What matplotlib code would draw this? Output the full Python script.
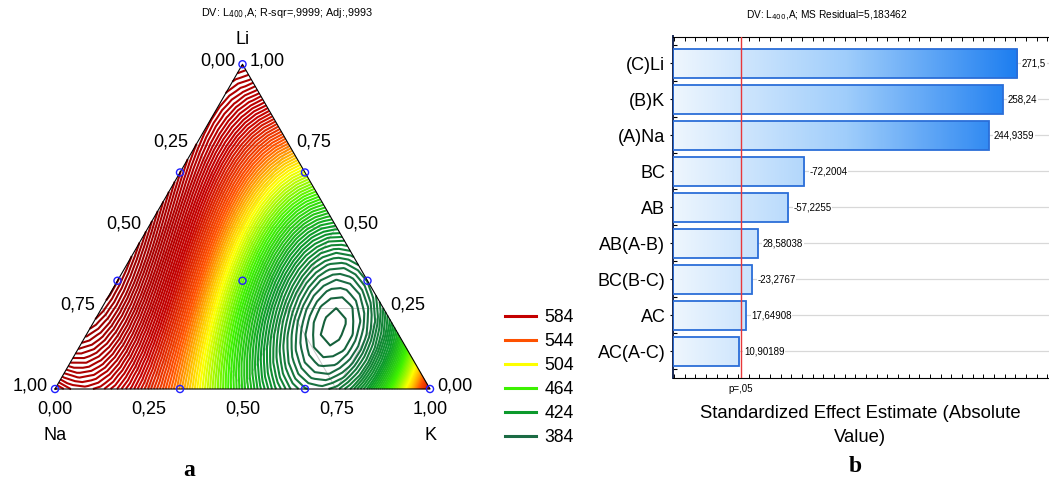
import numpy as np
import matplotlib
matplotlib.use("Agg")
import matplotlib.pyplot as plt
import matplotlib.tri as mtri
from matplotlib.colors import LinearSegmentedColormap, Normalize
from matplotlib.lines import Line2D
from matplotlib.ticker import MultipleLocator, FixedLocator

plt.rcParams['font.family'] = ['Liberation Sans', 'DejaVu Sans']

# ---- fitted mixture model for L400 (components Na, K, Li) ----
b_linear = [600.0, 580.0, 630.0]        # Na, K, Li
b_binary = [-573.75, 120.0, -720.0]     # Na*K, Na*Li, K*Li
b_cubic = [866.0, 280.0, -562.5]        # Na*K*(Na-K), Na*Li*(Na-Li), K*Li*(K-Li)

contour_step = 3.5
legend_levels = [584, 544, 504, 464, 424, 384]
cmap_values = [360, 384, 424, 464, 504, 544, 584, 660]
cmap_colors = ['#0f5430', '#1b6b44', '#0c9a2c', '#3ef200', '#ffff00',
               '#ff5200', '#c40000', '#960000']

# simplex-lattice {3,3} design plus centroid
design_na = [1, 0, 0, 2/3, 1/3, 2/3, 1/3, 0, 0, 1/3]
design_k = [0, 1, 0, 1/3, 2/3, 0, 0, 2/3, 1/3, 1/3]
design_li = [0, 0, 1, 0, 0, 1/3, 2/3, 1/3, 2/3, 1/3]

axis_fracs = [0.0, 0.25, 0.5, 0.75, 1.0]
axis_labels = ["0,00", "0,25", "0,50", "0,75", "1,00"]

# ---- Pareto chart of standardized effects ----
effect_terms = ["(C)Li", "(B)K", "(A)Na", "BC", "AB", "AB(A-B)", "BC(B-C)", "AC", "AC(A-C)"]
effect_values = [271.5, 258.24, 244.9359, -72.2004, -57.2255, 28.58038,
                 -23.2767, 17.64908, 10.90189]
t_critical = 12.706

S3 = np.sqrt(3) / 2


def to_xy(na, k, li):
    na, k, li = map(np.asarray, (na, k, li))
    return k + li / 2.0, li * S3


def response(na, k, li):
    return (b_linear[0] * na + b_linear[1] * k + b_linear[2] * li
            + b_binary[0] * na * k + b_binary[1] * na * li + b_binary[2] * k * li
            + b_cubic[0] * na * k * (na - k) + b_cubic[1] * na * li * (na - li)
            + b_cubic[2] * k * li * (k - li))


W, H = 1049, 484
fig = plt.figure(figsize=(W / 100, H / 100), dpi=100)

# ================= ternary contour plot =================
ax = fig.add_axes([0, 0, 480 / W, 1])
scale = 375.0
ax.set_xlim(-55 / scale, (480 - 55) / scale)
ax.set_ylim((389 - 484) / scale, 389 / scale)
ax.axis('off')

n = 24
pts = [(i / n, j / n, 1 - i / n - j / n) for i in range(n + 1) for j in range(n + 1 - i)]
na_g, k_g, li_g = (np.clip(np.array(c), 0, 1) for c in zip(*pts))
gx, gy = to_xy(na_g, k_g, li_g)
tri = mtri.Triangulation(gx, gy)
z = response(na_g, k_g, li_g)

lo, hi = cmap_values[0], cmap_values[-1]
cmap = LinearSegmentedColormap.from_list(
    "l400", [((v - lo) / (hi - lo), c) for v, c in zip(cmap_values, cmap_colors)])
norm = Normalize(lo, hi)

# composition grid
for v in (0.25, 0.5, 0.75):
    for a, b in [((v, 1 - v, 0), (v, 0, 1 - v)),
                 ((1 - v, v, 0), (0, v, 1 - v)),
                 ((1 - v, 0, v), (0, 1 - v, v))]:
        xa, ya = to_xy(*a)
        xb, yb = to_xy(*b)
        ax.plot([xa, xb], [ya, yb], color='#c8c8c8', lw=0.7, zorder=1)

levels = np.arange(384 - 4 * contour_step, 670, contour_step)
ax.tricontour(tri, z, levels=levels, cmap=cmap, norm=norm, linewidths=1.5, zorder=2)

tx, ty = to_xy([1, 0, 0, 1], [0, 1, 0, 0], [0, 0, 1, 0])
ax.plot(tx, ty, color='black', lw=0.8, zorder=3)

dx, dy = to_xy(design_na, design_k, design_li)
ax.scatter(dx, dy, s=26, facecolors='none', edgecolors='#1f1fff', linewidths=1.0,
           zorder=5, clip_on=False)

fs = 13
for f, lab in zip(axis_fracs, axis_labels):
    # Na scale on the left edge
    ax.annotate(lab, to_xy(f, 0, 1 - f), xytext=(-7, 3), textcoords='offset pixels',
                ha='right', va='center', fontsize=fs)
    # Li scale on the right edge
    ax.annotate(lab, to_xy(0, 1 - f, f), xytext=(7, 3), textcoords='offset pixels',
                ha='left', va='center', fontsize=fs)
    # K scale along the base
    ax.annotate(lab, to_xy(1 - f, f, 0), xytext=(0, -20), textcoords='offset pixels',
                ha='center', va='center', fontsize=fs)

ax.annotate("Li", to_xy(0, 0, 1), xytext=(0, 25), textcoords='offset pixels',
            ha='center', va='center', fontsize=fs)
ax.annotate("Na", to_xy(1, 0, 0), xytext=(0, -46), textcoords='offset pixels',
            ha='center', va='center', fontsize=fs)
ax.annotate("K", to_xy(0, 1, 0), xytext=(0, -46), textcoords='offset pixels',
            ha='center', va='center', fontsize=fs)

fig.text(287 / W, 1 - 13 / H, r"DV: L$_{400}$,A; R-sqr=,9999; Adj:,9993",
         ha='center', va='center', fontsize=7.8)
fig.text(189 / W, 1 - 470 / H, "a", ha='center', va='center', fontsize=17,
         fontweight='bold', family=['Liberation Serif', 'DejaVu Serif'])

handles = [Line2D([], [], color=cmap(norm(v)), lw=2.2) for v in legend_levels]
fig.legend(handles, [str(v) for v in legend_levels], loc='upper left',
           bbox_to_anchor=(505 / W, 1 - 309.5 / H), frameon=False, fontsize=12.7,
           handlelength=1.75, handletextpad=0.5, labelspacing=0.39,
           borderpad=0, borderaxespad=0)

# ================= Pareto chart =================
x_left_px, x_right_px, y_top_px, y_bot_px = 673, 1060, 36.5, 378
bx = fig.add_axes([x_left_px / W, 1 - y_bot_px / H,
                   (x_right_px - x_left_px) / W, (y_bot_px - y_top_px) / H])
px_per_unit = 1.0665
x0_px = 727.45
xmin = (x_left_px - x0_px) / px_per_unit
xmax = (x_right_px - x0_px) / px_per_unit

pos = np.arange(len(effect_terms))
abs_eff = np.abs(effect_values)

bar_cmap = LinearSegmentedColormap.from_list("barfill", ['#eef6fe', '#9fcdfb', '#1a7cf0'])
bar_norm = Normalize(xmin, 275)
bar_h = 0.8

bx.hlines(pos, xmin, xmax, color='#d8d8d8', lw=0.9, zorder=0)
bx.barh(pos, abs_eff - xmin, left=xmin, height=bar_h, facecolor='none',
        edgecolor='#2b6ed8', linewidth=1.3, zorder=3)
for p, v in zip(pos, abs_eff):
    grad = np.linspace(xmin, v, 256)[None, :]
    bx.imshow(grad, cmap=bar_cmap, norm=bar_norm, aspect='auto', interpolation='bilinear',
              extent=(xmin, v, p + bar_h / 2, p - bar_h / 2), zorder=2)

for p, v, raw in zip(pos, abs_eff, effect_values):
    bx.text(v + 5 / px_per_unit, p, f"{raw:.7g}".replace('.', ','), va='center', ha='left',
            fontsize=7, zorder=4,
            bbox=dict(facecolor='white', edgecolor='none', pad=0.4))

bx.axvline(t_critical, color='#e8383a', lw=1.0, zorder=4)
bx.annotate("p=,05", (t_critical, 0), xycoords=('data', 'axes fraction'),
            xytext=(0, -11), textcoords='offset pixels', ha='center', va='center', fontsize=7)

bx.set_xlim(xmin, xmax)
bx.set_ylim(len(effect_terms) - 1 + 0.74, -0.74)
bx.set_yticks(pos)
bx.set_yticklabels(effect_terms, fontsize=13)
bx.yaxis.set_minor_locator(FixedLocator(np.arange(-0.5, len(effect_terms), 1.0)))
bx.tick_params(axis='y', which='major', direction='inout', length=5, width=0.8, pad=3)
bx.tick_params(axis='y', which='minor', direction='in', length=3, width=0.8)
bx.xaxis.set_major_locator(MultipleLocator(10))
bx.tick_params(axis='x', which='major', direction='in', length=3, width=0.7,
               top=True, bottom=True, labelbottom=False)
for side in ('top', 'bottom'):
    bx.spines[side].set_linewidth(0.8)
bx.spines['left'].set_color('#1a2a55')
bx.spines['left'].set_linewidth(1.4)
bx.spines['right'].set_visible(False)

bx.set_xlabel("Standardized Effect Estimate (Absolute\nValue)", fontsize=13.3,
              linespacing=1.55)
bx.xaxis.set_label_coords((860 - x_left_px) / (x_right_px - x_left_px),
                          (y_bot_px - 405) / (y_bot_px - y_top_px))

fig.text(827 / W, 1 - 15 / H, r"DV: L$_{400}$,A; MS Residual=5,183462",
         ha='center', va='center', fontsize=7.3)
fig.text(855 / W, 1 - 467 / H, "b", ha='center', va='center', fontsize=17,
         fontweight='bold', family=['Liberation Serif', 'DejaVu Serif'])

fig.savefig("out.png", dpi=100)
